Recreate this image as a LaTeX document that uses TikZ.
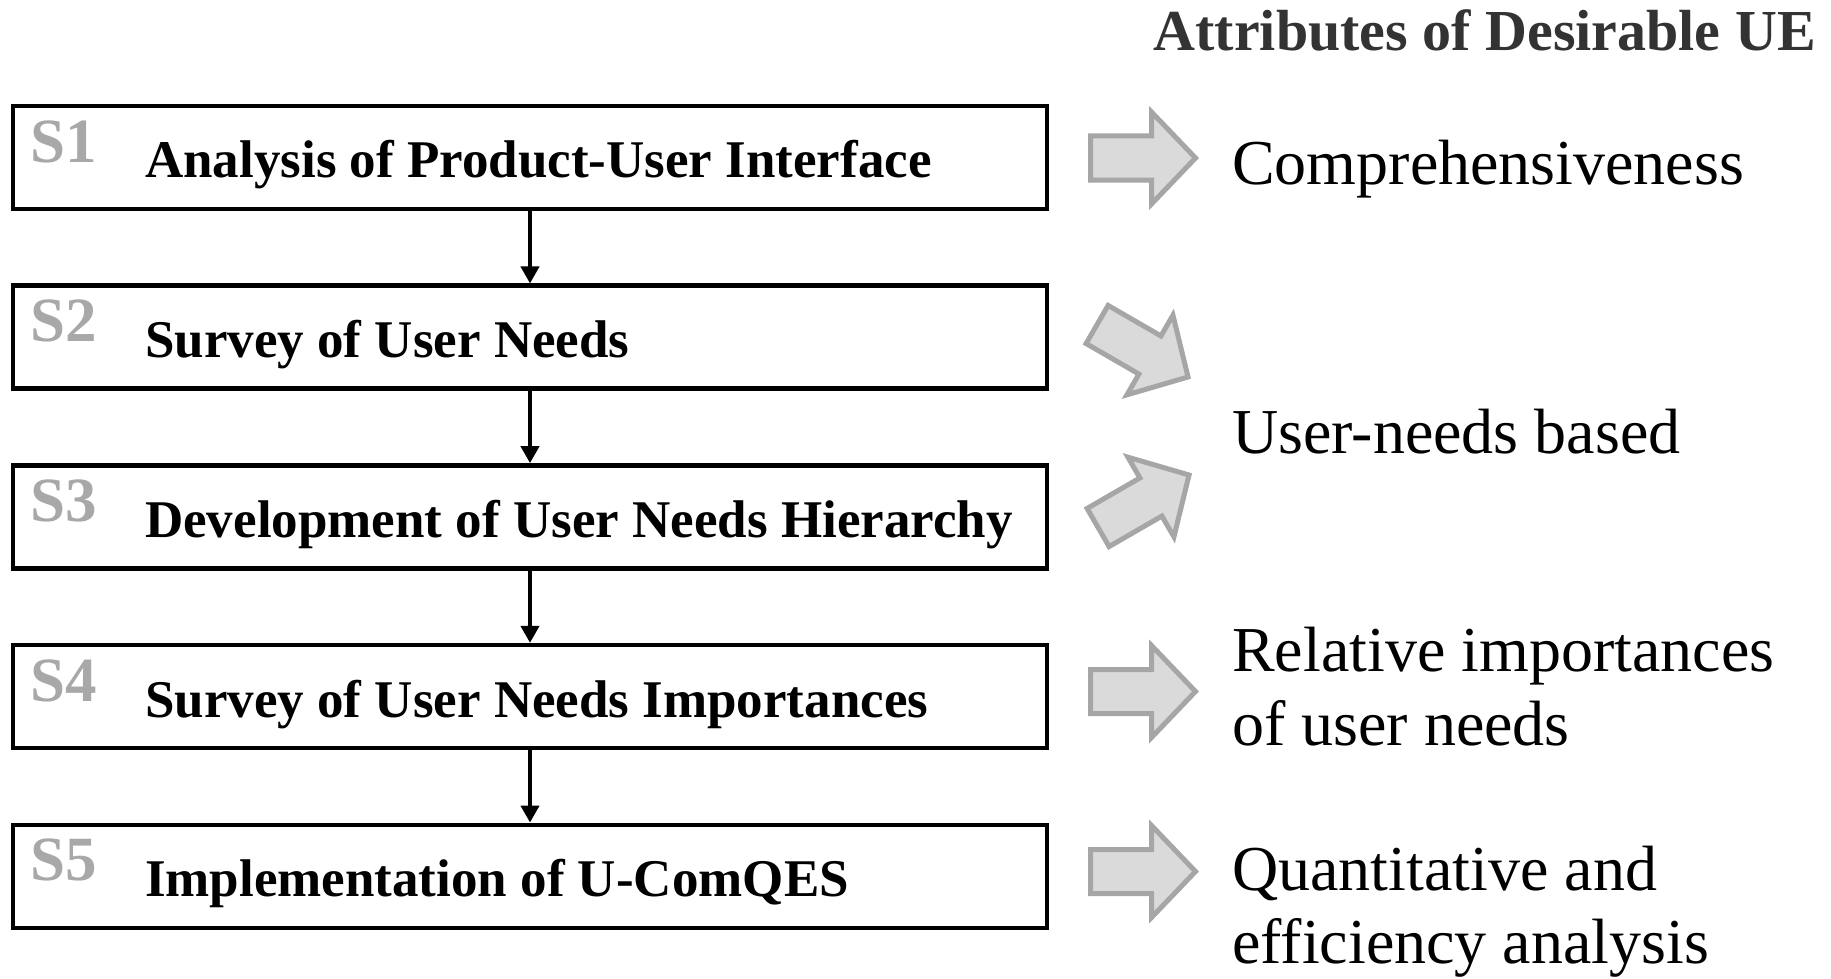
\documentclass[tikz,border=0pt]{standalone}
\usepackage{fontspec}
\setmainfont{Liberation Serif}
\usetikzlibrary{arrows.meta}
\definecolor{lblgray}{HTML}{A8A8A8}
\definecolor{arrfill}{HTML}{DADADA}
\definecolor{arrline}{HTML}{A6A6A6}
\definecolor{ttlgray}{HTML}{333333}
\begin{document}
\begin{tikzpicture}[x=1pt,y=-1pt,
  stepbox/.style={draw=black, line width=4.5pt, minimum width=1034pt, minimum height=103pt, inner sep=0pt, outer sep=0pt},
  steplbl/.style={anchor=base west, inner sep=0pt, text=lblgray, font=\fontsize{63}{70}\selectfont\bfseries},
  steptxt/.style={anchor=base west, inner sep=0pt, text=black, font=\fontsize{53}{60}\selectfont\bfseries},
  attrtxt/.style={anchor=base west, inner sep=0pt, text=black, font=\fontsize{64}{74}\selectfont},
  conn/.style={draw=black, line width=4pt, -{Triangle[length=17pt,width=18pt]}, shorten >=2.25pt},
  blockarrow/.style={draw=arrline, fill=arrfill, line width=5pt, line join=miter},
  blockarr/.pic={\path[blockarrow] (-53,-22) -- (8,-22) -- (8,-46) -- (52,0) -- (8,46) -- (8,22) -- (-53,22) -- cycle;}
]
\useasboundingbox (0,0) rectangle (1831,979);

% title
\node[anchor=base east, inner sep=0pt, text=ttlgray, font=\fontsize{58}{66}\selectfont\bfseries] (title) at (1816,51) {Attributes of Desirable UE};

% step boxes
\node[stepbox] (b1) at (530,157.5) {};
\node[stepbox] (b2) at (530,337.2) {};
\node[stepbox] (b3) at (530,516.9) {};
\node[stepbox] (b4) at (530,696.6) {};
\node[stepbox] (b5) at (530,876.3) {};

% step labels and texts
\node[steplbl] (l1) at ([shift={(17,56)}]b1.north west) {S1};
\node[steplbl] (l2) at ([shift={(17,56)}]b2.north west) {S2};
\node[steplbl] (l3) at ([shift={(17,56)}]b3.north west) {S3};
\node[steplbl] (l4) at ([shift={(17,56)}]b4.north west) {S4};
\node[steplbl] (l5) at ([shift={(17,56)}]b5.north west) {S5};

\node[steptxt] (t1) at ([shift={(132,72)}]b1.north west) {Analysis of Product-User Interface};
\node[steptxt] (t2) at ([shift={(132,72)}]b2.north west) {Survey of User Needs};
\node[steptxt] (t3) at ([shift={(132,72)}]b3.north west) {Development of User Needs Hierarchy};
\node[steptxt] (t4) at ([shift={(132,72)}]b4.north west) {Survey of User Needs Importances};
\node[steptxt] (t5) at ([shift={(132,72)}]b5.north west) {Implementation of U-ComQES};

% connectors
\draw[conn] (b1.south) -- (b2.north);
\draw[conn] (b2.south) -- (b3.north);
\draw[conn] (b3.south) -- (b4.north);
\draw[conn] (b4.south) -- (b5.north);

% block arrows
\pic at (1143.5,158) {blockarr};
\pic[rotate=-30] at (1143,351) {blockarr};
\pic[rotate=30] at (1144,501) {blockarr};
\pic at (1143.5,691.5) {blockarr};
\pic at (1143.5,871.5) {blockarr};

% attributes
\node[attrtxt] (a1) at (1232,184) {Comprehensiveness};
\node[attrtxt] (a2) at (1232,453) {User-needs based};
\node[attrtxt] (a3a) at (1232,671) {Relative importances};
\node[attrtxt] (a3b) at (1232,745) {of user needs};
\node[attrtxt] (a4a) at (1232,890) {Quantitative and};
\node[attrtxt] (a4b) at (1232,963) {efficiency analysis};
\end{tikzpicture}
\end{document}
